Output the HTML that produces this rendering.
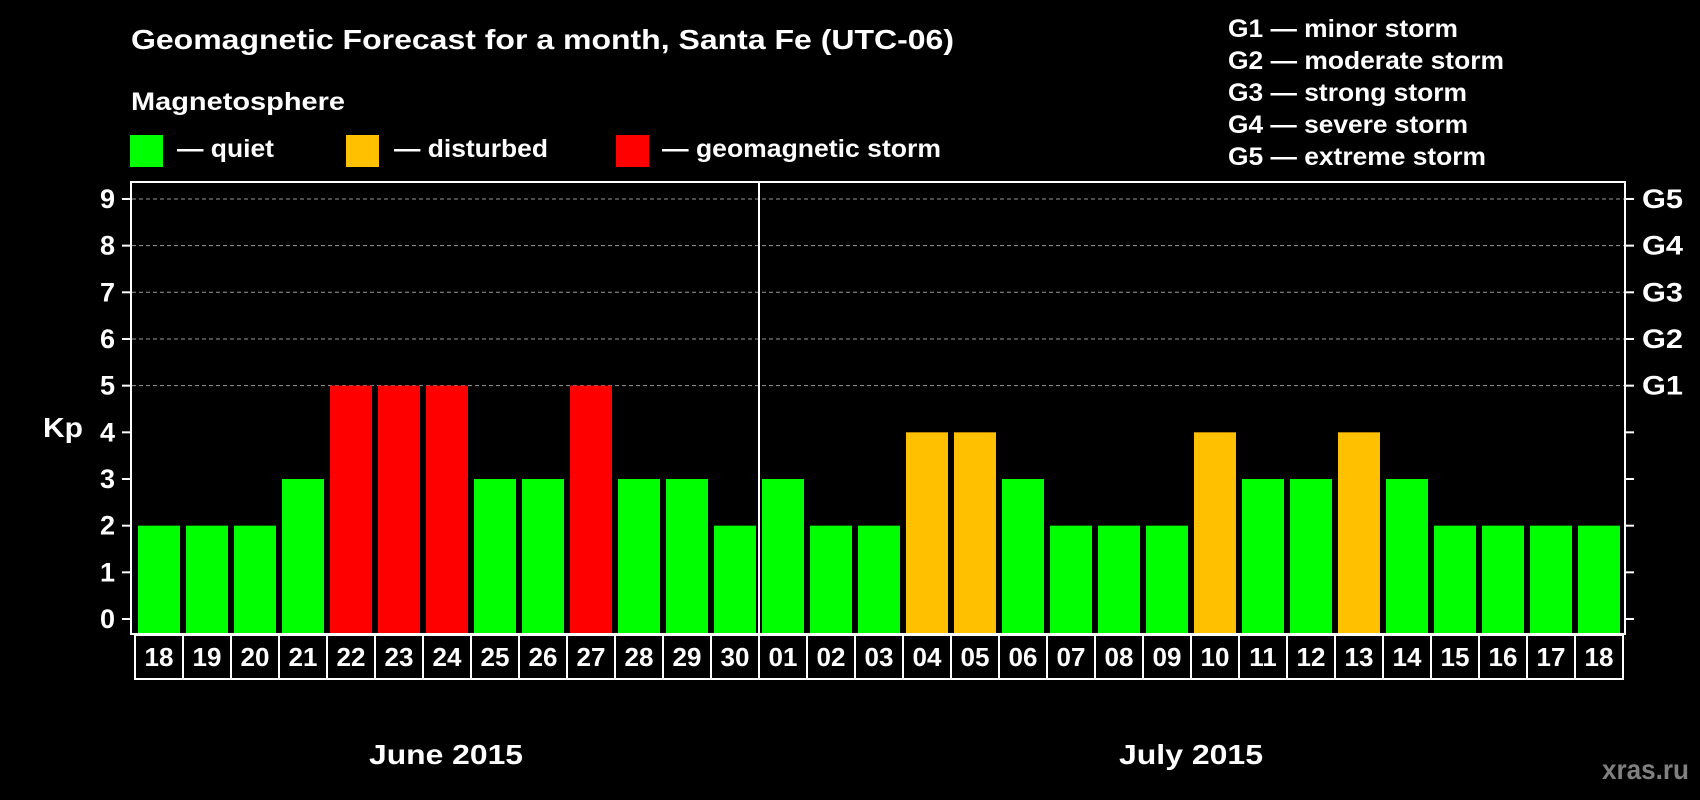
<!DOCTYPE html>
<html><head><meta charset="utf-8"><style>
html,body{margin:0;padding:0;background:#000;}
svg{display:block;font-family:"Liberation Sans",Arial,sans-serif;font-weight:bold;}
</style></head><body>
<svg id="chart" width="1700" height="800" viewBox="0 0 1700 800">
<text x="131" y="49" fill="#fff" font-size="28" textLength="823" lengthAdjust="spacingAndGlyphs">Geomagnetic Forecast for a month, Santa Fe (UTC-06)</text>
<text x="131" y="110" fill="#fff" font-size="25" textLength="214" lengthAdjust="spacingAndGlyphs">Magnetosphere</text>
<g><rect x="130" y="135" width="33" height="32" fill="#00ff00"/><text x="177" y="157" fill="#fff" font-size="25" textLength="97" lengthAdjust="spacingAndGlyphs">— quiet</text></g>
<g><rect x="346" y="135" width="33" height="32" fill="#ffc000"/><text x="394" y="157" fill="#fff" font-size="25" textLength="154" lengthAdjust="spacingAndGlyphs">— disturbed</text></g>
<g><rect x="616" y="135" width="33" height="32" fill="#ff0000"/><text x="662" y="157" fill="#fff" font-size="25" textLength="279" lengthAdjust="spacingAndGlyphs">— geomagnetic storm</text></g>
<g fill="#fff" font-size="25">
<text x="1228" y="37" textLength="230" lengthAdjust="spacingAndGlyphs">G1 — minor storm</text>
<text x="1228" y="69" textLength="276" lengthAdjust="spacingAndGlyphs">G2 — moderate storm</text>
<text x="1228" y="101" textLength="239" lengthAdjust="spacingAndGlyphs">G3 — strong storm</text>
<text x="1228" y="133" textLength="240" lengthAdjust="spacingAndGlyphs">G4 — severe storm</text>
<text x="1228" y="165" textLength="258" lengthAdjust="spacingAndGlyphs">G5 — extreme storm</text>
</g>
<text x="43" y="437" fill="#fff" font-size="28" textLength="40" lengthAdjust="spacingAndGlyphs">Kp</text>
<g id="grid"></g>
<g id="bars"></g>
<g id="dates"></g>
<rect x="131" y="182" width="1494" height="452" fill="none" stroke="#fff" stroke-width="2"/>
<line x1="759" y1="182" x2="759" y2="634" stroke="#fff" stroke-width="2"/>
<text x="369" y="764" fill="#fff" font-size="28" textLength="154" lengthAdjust="spacingAndGlyphs">June 2015</text>
<text x="1119" y="764" fill="#fff" font-size="28" textLength="144" lengthAdjust="spacingAndGlyphs">July 2015</text>
<text x="1602" y="779" fill="#808080" font-size="28" textLength="87" lengthAdjust="spacingAndGlyphs">xras.ru</text>
</svg>
<script>
const days = ["18","19","20","21","22","23","24","25","26","27","28","29","30","01","02","03","04","05","06","07","08","09","10","11","12","13","14","15","16","17","18"];
const kpValues = [2,2,2,3,5,5,5,3,3,5,3,3,2,3,2,2,4,4,3,2,2,2,4,3,3,4,3,2,2,2,2];
const yTicks = [0,1,2,3,4,5,6,7,8,9];
const gLabels = ["","","","","","G1","G2","G3","G4","G5"];
const NS="http://www.w3.org/2000/svg";
function y(v){return 619-46.67*v;}
function x(i){return 135+48*i;}
function color(v){return v>=5?"#ff0000":(v>=4?"#ffc000":"#00ff00");}
function mk(t,a){const e=document.createElementNS(NS,t);for(const k in a)e.setAttribute(k,a[k]);return e;}
const grid=document.getElementById("grid");
yTicks.forEach(function(v){
  const yy=y(v);
  if(v>=5){
    const l=mk("line",{x1:132,x2:1624,y1:yy,y2:yy,stroke:"#999","stroke-width":1,"stroke-dasharray":"4,3"});
    
    
    grid.appendChild(l);
  }
  const tl=mk("line",{x1:122,x2:131,y1:yy,y2:yy,stroke:"#fff","stroke-width":2});
  
  
  grid.appendChild(tl);
  const tr=mk("line",{x1:1625,x2:1634,y1:yy,y2:yy,stroke:"#fff","stroke-width":2});
  
  
  grid.appendChild(tr);
  const t=mk("text",{x:115,y:yy+9,fill:"#fff","font-size":27,"text-anchor":"end"});
  t.textContent=v;
  
  
  grid.appendChild(t);
  if(gLabels[v]){
    const g=mk("text",{x:1642,y:yy+9,fill:"#fff","font-size":27,textLength:41,lengthAdjust:"spacingAndGlyphs"});
    g.textContent=gLabels[v];
    
    
    grid.appendChild(g);
  }
});
const bars=document.getElementById("bars");
const dates=document.getElementById("dates");
kpValues.forEach(function(v,i){
  const r=mk("rect",{x:x(i)+3,y:y(v),width:42,height:633-y(v),fill:color(v)});
  
  
  bars.appendChild(r);
  const b=mk("rect",{x:x(i),y:635,width:48,height:44,fill:"none",stroke:"#fff","stroke-width":2});
  
  
  dates.appendChild(b);
  const t=mk("text",{x:x(i)+24,y:666,fill:"#fff","font-size":26,"text-anchor":"middle"});
  t.textContent=days[i];
  
  
  dates.appendChild(t);
});
</script>
</body></html>
